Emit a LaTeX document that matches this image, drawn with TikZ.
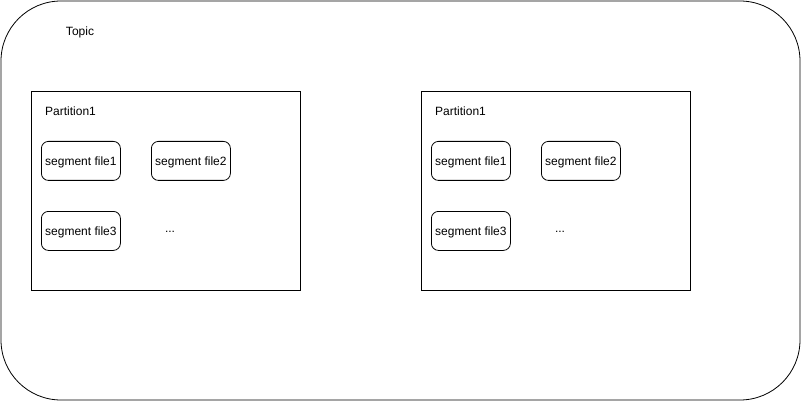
\documentclass[tikz,border=0pt]{standalone}
\usepackage{fontspec}
\setmainfont{Liberation Sans}
\begin{document}
\begin{tikzpicture}[x=1pt,y=-1pt,
  txt/.style={inner sep=0pt,font=\fontsize{12}{14}\selectfont,yshift=-1pt},
  partbox/.style={draw,line width=0.8pt},
  segbox/.style={draw,line width=0.8pt,rounded corners=7pt,minimum width=79pt,minimum height=39pt,inner sep=0pt,text depth=0pt,font=\fontsize{12}{14}\selectfont,anchor=north west}]
\useasboundingbox (0,0) rectangle (801,401);
\draw[line width=0.8pt,rounded corners=60pt] (1,1) rectangle (800,400);
\node[txt] (topic) at (80,31) {Topic};
% left partition
\node[partbox,minimum width=269pt,minimum height=199pt,anchor=north west,inner sep=0pt] (p1) at (31,91) {};
\node[txt,anchor=west] (p1l) at (45,110) {Partition1};
\node[segbox] (s11) at (41,141) {segment file1};
\node[segbox] (s12) at (151,141) {segment file2};
\node[segbox] (s13) at (41,211) {segment file3};
\node[txt] (d1) at (170,231) {...};
% right partition
\node[partbox,minimum width=269pt,minimum height=199pt,anchor=north west,inner sep=0pt] (p2) at (421,91) {};
\node[txt,anchor=west] (p2l) at (435,110) {Partition1};
\node[segbox] (s21) at (431,141) {segment file1};
\node[segbox] (s22) at (541,141) {segment file2};
\node[segbox] (s23) at (431,211) {segment file3};
\node[txt] (d2) at (560,231) {...};
\end{tikzpicture}
\end{document}
